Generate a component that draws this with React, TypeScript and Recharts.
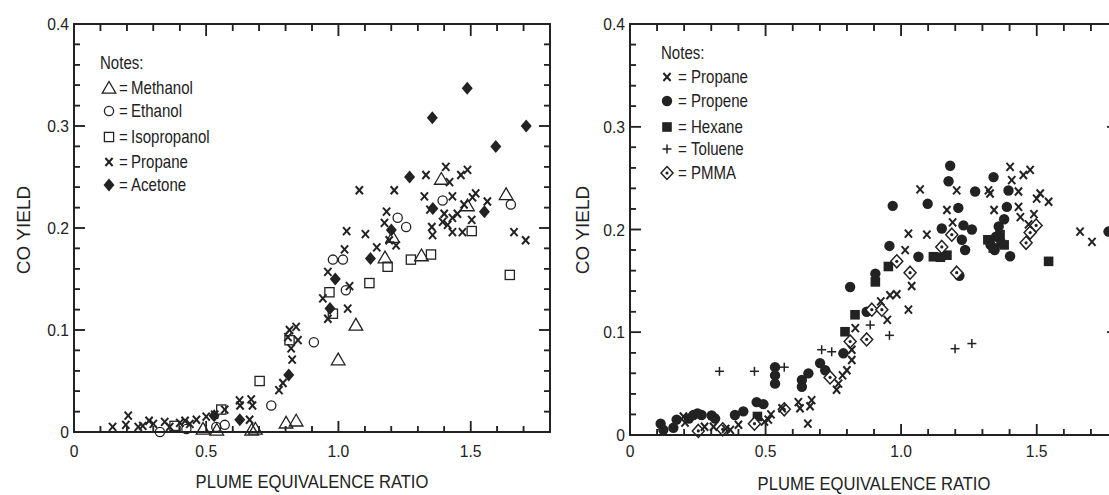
import React from 'react';
import { ScatterChart, Scatter, XAxis, YAxis } from 'recharts';

const INK = '#222';
const FONT = "'Liberation Sans', Arial, sans-serif";

type P = [number, number];

// ---------- Left panel data ----------
const methanol: P[] = [[0.488,0.003],[0.54,0.002],[0.672,0.002],[0.686,0.003],[0.802,0.009],[0.84,0.011],[0.999,0.071],[1.066,0.105],[1.176,0.171],[1.205,0.191],[1.314,0.173],[1.389,0.248],[1.488,0.222],[1.634,0.233]];
const ethanol: P[] = [[0.325,0.0],[0.425,0.003],[0.538,0.005],[0.57,0.007],[0.746,0.026],[0.907,0.088],[0.979,0.169],[1.017,0.169],[1.028,0.139],[1.224,0.21],[1.256,0.201],[1.394,0.227],[1.652,0.223]];
const isopropanol: P[] = [[0.38,0.006],[0.557,0.022],[0.702,0.05],[0.815,0.09],[0.966,0.137],[0.979,0.116],[1.117,0.146],[1.186,0.162],[1.274,0.169],[1.35,0.174],[1.504,0.197],[1.648,0.154]];
const propaneL: P[] = [[0.146,0.005],[0.196,0.007],[0.205,0.016],[0.243,0.005],[0.26,0.006],[0.284,0.011],[0.3,0.008],[0.343,0.01],[0.362,0.005],[0.4,0.009],[0.42,0.011],[0.438,0.008],[0.463,0.012],[0.5,0.015],[0.532,0.017],[0.57,0.022],[0.626,0.031],[0.628,0.026],[0.67,0.032],[0.675,0.026],[0.664,0.012],[0.775,0.041],[0.79,0.048],[0.809,0.093],[0.815,0.1],[0.84,0.103],[0.821,0.082],[0.847,0.09],[0.825,0.071],[0.941,0.131],[0.96,0.157],[0.96,0.111],[1.023,0.179],[1.031,0.197],[1.042,0.143],[1.035,0.121],[1.079,0.237],[1.102,0.194],[1.145,0.181],[1.174,0.205],[1.182,0.216],[1.192,0.188],[1.211,0.237],[1.218,0.183],[1.325,0.231],[1.331,0.252],[1.346,0.218],[1.353,0.201],[1.356,0.193],[1.394,0.206],[1.4,0.214],[1.406,0.26],[1.413,0.203],[1.42,0.245],[1.431,0.231],[1.431,0.21],[1.431,0.196],[1.45,0.214],[1.463,0.252],[1.469,0.196],[1.475,0.223],[1.488,0.257],[1.504,0.208],[1.507,0.23],[1.519,0.234],[1.563,0.226],[1.664,0.196],[1.708,0.188]];
const acetone: P[] = [[0.53,0.016],[0.627,0.012],[0.812,0.056],[0.968,0.121],[0.988,0.15],[1.121,0.17],[1.2,0.198],[1.269,0.25],[1.357,0.219],[1.355,0.308],[1.487,0.337],[1.552,0.216],[1.595,0.28],[1.71,0.3]];

// ---------- Right panel data ----------
const propaneR: P[] = [[0.197,0.018],[0.203,0.012],[0.275,0.008],[0.308,0.008],[0.353,0.006],[0.37,0.005],[0.4,0.01],[0.496,0.013],[0.51,0.015],[0.52,0.02],[0.561,0.026],[0.621,0.032],[0.627,0.026],[0.656,0.011],[0.664,0.028],[0.67,0.034],[0.762,0.044],[0.769,0.05],[0.784,0.058],[0.8,0.063],[0.818,0.073],[0.818,0.083],[0.831,0.104],[0.925,0.13],[0.949,0.112],[0.959,0.136],[0.984,0.137],[1.015,0.18],[1.027,0.196],[1.027,0.122],[1.039,0.145],[1.07,0.239],[1.095,0.195],[1.169,0.219],[1.205,0.238],[1.19,0.207],[1.322,0.238],[1.328,0.235],[1.343,0.219],[1.402,0.261],[1.408,0.248],[1.433,0.237],[1.433,0.222],[1.44,0.212],[1.451,0.253],[1.47,0.205],[1.476,0.258],[1.5,0.23],[1.513,0.235],[1.49,0.215],[1.544,0.227],[1.66,0.198],[1.704,0.188]];
const propene: P[] = [[0.113,0.011],[0.123,0.005],[0.16,0.007],[0.172,0.015],[0.217,0.016],[0.234,0.0195],[0.264,0.0195],[0.249,0.021],[0.301,0.019],[0.314,0.016],[0.387,0.0195],[0.418,0.023],[0.467,0.032],[0.492,0.03],[0.535,0.066],[0.535,0.058],[0.535,0.05],[0.634,0.0535],[0.634,0.047],[0.658,0.06],[0.701,0.07],[0.72,0.063],[0.787,0.0795],[0.812,0.144],[0.873,0.12],[0.905,0.157],[0.957,0.184],[0.969,0.223],[1.064,0.1735],[1.098,0.225],[1.15,0.201],[1.175,0.247],[1.181,0.262],[1.211,0.221],[1.23,0.204],[1.261,0.2],[1.224,0.19],[1.236,0.18],[1.215,0.155],[1.273,0.237],[1.341,0.251],[1.396,0.238],[1.39,0.222],[1.402,0.174],[1.33,0.185],[1.35,0.193],[1.36,0.203],[1.38,0.21],[1.37,0.187],[1.345,0.18],[1.765,0.198]];
const hexane: P[] = [[0.47,0.018],[0.793,0.1005],[0.83,0.117],[0.905,0.149],[0.953,0.164],[1.119,0.1735],[1.145,0.173],[1.169,0.175],[1.32,0.19],[1.34,0.182],[1.365,0.195],[1.38,0.185],[1.544,0.169]];
const toluene: P[] = [[0.33,0.062],[0.459,0.062],[0.569,0.066],[0.707,0.083],[0.744,0.081],[0.886,0.107],[0.957,0.097],[1.199,0.084],[1.261,0.089]];
const pmma: P[] = [[0.252,0.004],[0.342,0.0055],[0.459,0.011],[0.569,0.025],[0.738,0.056],[0.812,0.091],[0.873,0.093],[0.892,0.122],[0.929,0.122],[0.984,0.169],[1.033,0.158],[1.15,0.183],[1.187,0.195],[1.205,0.158],[1.461,0.187],[1.476,0.197],[1.498,0.204]];

// ---------- Axis ticks ----------
const xTickLabels = [0, 0.5, 1.0, 1.5];
const yTickLabels = [0, 0.1, 0.2, 0.3, 0.4];
const xMajor = [0.5, 1.0, 1.5];
const xMinor = [0.1, 0.2, 0.3, 0.4, 0.6, 0.7, 0.8, 0.9, 1.1, 1.2, 1.3, 1.4, 1.6, 1.7];
const yMajor = [0.1, 0.2, 0.3];
const yMinor = [0.02, 0.04, 0.06, 0.08, 0.12, 0.14, 0.16, 0.18, 0.22, 0.24, 0.26, 0.28, 0.32, 0.34, 0.36, 0.38];
const X_MAX = 1.8;
const Y_MAX = 0.4;

const leftLegend = ['Methanol', 'Ethanol', 'Isopropanol', 'Propane', 'Acetone'];
const rightLegend = ['Propane', 'Propene', 'Hexane', 'Toluene', 'PMMA'];

const pts = (a: P[]) => a.map(([x, y]) => ({ x, y }));
const frameCorners = [{ x: 0, y: 0 }, { x: X_MAX, y: 0 }, { x: X_MAX, y: Y_MAX }, { x: 0, y: Y_MAX }, { x: 0, y: 0 }];
const onBottom = (a: number[]) => a.map((x) => ({ x, y: 0 }));
const onTop = (a: number[]) => a.map((x) => ({ x, y: Y_MAX }));
const onLeft = (a: number[]) => a.map((y) => ({ x: 0, y }));
const onRight = (a: number[]) => a.map((y) => ({ x: X_MAX, y }));

// ---------- Marker shapes ----------
const TriOpen = (p: any) => (
  <polygon points={`${p.cx},${p.cy - 6.5} ${p.cx - 6.8},${p.cy + 5.2} ${p.cx + 6.8},${p.cy + 5.2}`} fill="none" stroke={INK} strokeWidth={1.3} />
);
const CircOpen = (p: any) => <circle cx={p.cx} cy={p.cy} r={4.6} fill="none" stroke={INK} strokeWidth={1.3} />;
const SqOpen = (p: any) => <rect x={p.cx - 4.6} y={p.cy - 4.6} width={9.2} height={9.2} fill="none" stroke={INK} strokeWidth={1.3} />;
const XMark = (p: any) => (
  <g stroke={INK} strokeWidth={2}>
    <line x1={p.cx - 3.6} y1={p.cy - 4} x2={p.cx + 3.6} y2={p.cy + 4} />
    <line x1={p.cx + 3.6} y1={p.cy - 4} x2={p.cx - 3.6} y2={p.cy + 4} />
  </g>
);
const DiamFill = (p: any) => (
  <polygon points={`${p.cx},${p.cy - 6.5} ${p.cx + 5.5},${p.cy} ${p.cx},${p.cy + 6.5} ${p.cx - 5.5},${p.cy}`} fill={INK} />
);
const CircFill = (p: any) => <circle cx={p.cx} cy={p.cy} r={5.2} fill={INK} />;
const SqFill = (p: any) => <rect x={p.cx - 4.8} y={p.cy - 4.8} width={9.6} height={9.6} fill={INK} />;
const PlusMark = (p: any) => (
  <g stroke={INK} strokeWidth={1.5}>
    <line x1={p.cx - 4.5} y1={p.cy} x2={p.cx + 4.5} y2={p.cy} />
    <line x1={p.cx} y1={p.cy - 4.5} x2={p.cx} y2={p.cy + 4.5} />
  </g>
);
const DiamDot = (p: any) => (
  <g>
    <polygon points={`${p.cx},${p.cy - 6.5} ${p.cx + 6},${p.cy} ${p.cx},${p.cy + 6.5} ${p.cx - 6},${p.cy}`} fill="#fff" stroke={INK} strokeWidth={1.5} />
    <circle cx={p.cx} cy={p.cy} r={1.6} fill={INK} />
  </g>
);
const NoMark = () => <g />;
// inward tick marks drawn as thin filled rectangles at tick positions
const vTick = (len: number) => (p: any) => (
  <rect x={p.cx - 0.8} y={len < 0 ? p.cy + len : p.cy} width={1.6} height={Math.abs(len)} fill={INK} />
);
const hTick = (len: number) => (p: any) => (
  <rect x={len < 0 ? p.cx + len : p.cx} y={p.cy - 0.8} width={Math.abs(len)} height={1.6} fill={INK} />
);
// frame edges as thin filled rectangles anchored at the frame corners
const BottomEdge = (p: any) => <rect x={p.cx - 1} y={p.cy - 1} width={p.span} height={2} fill={INK} />;

const fmt = (v: number) => (v === 0 ? '0' : v.toFixed(1));
const TICK_FS = 16.5;

const NText = ({ x, y, sx = 0.86, anchor = 'start', size = 17, rotate = 0, children }: any) => (
  <text transform={`translate(${x} ${y}) rotate(${rotate}) scale(${sx} 1)`} x={0} y={0} textAnchor={anchor}
    fill={INK} fontFamily={FONT} fontSize={size}>{children}</text>
);

const makeBottomLabel = (labelOffset: number) => (props: any) => (
  <NText x={props.x} y={props.y + labelOffset} anchor="middle" size={TICK_FS} sx={0.95}>{fmt(props.payload.value)}</NText>
);
const leftLabel = (props: any) => (
  <NText x={props.x - 5} y={props.y + 6} anchor="end" size={TICK_FS} sx={0.95}>{fmt(props.payload.value)}</NText>
);

function FrameAndTicks() {
  const s = { isAnimationActive: false, legendType: 'none' as const };
  return [
    <Scatter key="frame" {...s} data={frameCorners} line={{ stroke: INK, strokeWidth: 1.8 }} lineType="joint" shape={NoMark} />,
    <Scatter key="bM" {...s} data={onBottom(xMajor)} shape={vTick(-11)} />,
    <Scatter key="bm" {...s} data={onBottom(xMinor)} shape={vTick(-6)} />,
    <Scatter key="tM" {...s} data={onTop(xMajor)} shape={vTick(12)} />,
    <Scatter key="tm" {...s} data={onTop(xMinor)} shape={vTick(7)} />,
    <Scatter key="lM" {...s} data={onLeft(yMajor)} shape={hTick(11)} />,
    <Scatter key="lm" {...s} data={onLeft(yMinor)} shape={hTick(6)} />,
    <Scatter key="rM" {...s} data={onRight(yMajor)} shape={hTick(-11)} />,
    <Scatter key="rm" {...s} data={onRight(yMinor)} shape={hTick(-6)} />,
  ];
}

function LeftChart() {
  return (
    <ScatterChart width={560} height={495} margin={{ top: 24, right: 10, bottom: 0, left: 0 }}>
      <XAxis type="number" dataKey="x" domain={[0, X_MAX]} ticks={xTickLabels} interval={0} axisLine={false}
        tickLine={false} tickSize={0} tickMargin={0} height={63} tick={makeBottomLabel(25)} />
      <YAxis type="number" dataKey="y" domain={[0, Y_MAX]} ticks={yTickLabels} interval={0} axisLine={false}
        tickLine={false} tickSize={0} tickMargin={0} width={74} tick={leftLabel} />
      <Scatter data={pts(methanol)} shape={TriOpen} isAnimationActive={false} />
      <Scatter data={pts(ethanol)} shape={CircOpen} isAnimationActive={false} />
      <Scatter data={pts(isopropanol)} shape={SqOpen} isAnimationActive={false} />
      <Scatter data={pts(propaneL)} shape={XMark} isAnimationActive={false} />
      <Scatter data={pts(acetone)} shape={DiamFill} isAnimationActive={false} />
      {FrameAndTicks()}
    </ScatterChart>
  );
}

function RightChart() {
  return (
    <ScatterChart width={560} height={495} margin={{ top: 24, right: 2, bottom: 0, left: 0 }}>
      <XAxis type="number" dataKey="x" domain={[0, X_MAX]} ticks={xTickLabels} interval={0} axisLine={false}
        tickLine={false} tickSize={0} tickMargin={0} height={60} tick={makeBottomLabel(22)} />
      <YAxis type="number" dataKey="y" domain={[0, Y_MAX]} ticks={yTickLabels} interval={0} axisLine={false}
        tickLine={false} tickSize={0} tickMargin={0} width={70} tick={leftLabel} />
      <Scatter data={pts(propene)} shape={CircFill} isAnimationActive={false} />
      <Scatter data={pts(hexane)} shape={SqFill} isAnimationActive={false} />
      <Scatter data={pts(pmma)} shape={DiamDot} isAnimationActive={false} />
      <Scatter data={pts(toluene)} shape={PlusMark} isAnimationActive={false} />
      <Scatter data={pts(propaneR)} shape={XMark} isAnimationActive={false} />
      {FrameAndTicks()}
    </ScatterChart>
  );
}

const leftShapes = [TriOpen, CircOpen, SqOpen, XMark, DiamFill];
const rightShapes = [XMark, CircFill, SqFill, PlusMark, DiamDot];

// plot box of each panel (matches chart margins / axis sizes) for the frame overlay
function FrameOverlay({ x, y, w, h }: any) {
  const px = (v: number) => x + (v / X_MAX) * w;
  const py = (v: number) => y + h - (v / Y_MAX) * h;
  return (
    <g fill={INK}>
      <rect x={x - 0.9} y={y - 0.9} width={w + 1.8} height={1.8} />
      <rect x={x - 0.9} y={y + h - 0.9} width={w + 1.8} height={1.8} />
      <rect x={x - 0.9} y={y - 0.9} width={1.8} height={h + 1.8} />
      <rect x={x + w - 0.9} y={y - 0.9} width={1.8} height={h + 1.8} />
      {xMajor.map((v) => <rect key={'a' + v} x={px(v) - 0.7} y={y + h - 11} width={1.4} height={11} />)}
      {xMinor.map((v) => <rect key={'b' + v} x={px(v) - 0.7} y={y + h - 6} width={1.4} height={6} />)}
      {xMajor.map((v) => <rect key={'c' + v} x={px(v) - 0.7} y={y} width={1.4} height={12} />)}
      {xMinor.map((v) => <rect key={'d' + v} x={px(v) - 0.7} y={y} width={1.4} height={7} />)}
      {yMajor.map((v) => <rect key={'e' + v} x={x} y={py(v) - 0.7} width={11} height={1.4} />)}
      {yMinor.map((v) => <rect key={'f' + v} x={x} y={py(v) - 0.7} width={6} height={1.4} />)}
      {yMajor.map((v) => <rect key={'g' + v} x={x + w - 11} y={py(v) - 0.7} width={11} height={1.4} />)}
      {yMinor.map((v) => <rect key={'h' + v} x={x + w - 6} y={py(v) - 0.7} width={6} height={1.4} />)}
    </g>
  );
}

function Overlay({ names, shapes, notesX, notesY, rowsY, symX, eqX, nameX, ylabX, xlabX, xlabY, box }: any) {
  return (
    <svg width={560} height={495} style={{ position: 'absolute', left: 0, top: 0, pointerEvents: 'none' }}>
      <FrameOverlay {...box} />
      <NText x={notesX} y={notesY + 6} size={17.5}>Notes:</NText>
      {names.map((n: string, i: number) => {
        const S = shapes[i];
        const y = rowsY[i];
        return (
          <g key={n}>
            <S cx={symX} cy={y} />
            <NText x={eqX} y={y + 6} size={17.5}>=</NText>
            <NText x={nameX} y={y + 6} size={17.5}>{n}</NText>
          </g>
        );
      })}
      <NText x={ylabX + 7} y={230} rotate={-90} anchor="middle" size={19} sx={1.0}>CO YIELD</NText>
      <NText x={xlabX} y={xlabY} anchor="middle" size={17.5} sx={0.95}>PLUME EQUIVALENCE RATIO</NText>
    </svg>
  );
}

export default function App() {
  return (
    <div style={{ position: 'absolute', left: 0, top: 0, width: 1109, height: 495, overflow: 'hidden', background: '#fff' }}>
      <div style={{ position: 'absolute', left: 0, top: 0, width: 560, height: 495 }}>
        <LeftChart />
        <Overlay names={leftLegend} shapes={leftShapes} notesX={100} notesY={63} rowsY={[88, 111, 137, 162, 185]}
          symX={109} eqX={119} nameX={131} ylabX={23} xlabX={312} xlabY={488} box={{ x: 74, y: 24, w: 476, h: 408 }} />
      </div>
      <div style={{ position: 'absolute', left: 560, top: 0, width: 560, height: 495 }}>
        <RightChart />
        <Overlay names={rightLegend} shapes={rightShapes} notesX={101} notesY={53} rowsY={[77, 101, 127, 149, 173]}
          symX={107} eqX={118} nameX={131} ylabX={22} xlabX={314} xlabY={490} box={{ x: 70, y: 24, w: 488, h: 411 }} />
      </div>
    </div>
  );
}
